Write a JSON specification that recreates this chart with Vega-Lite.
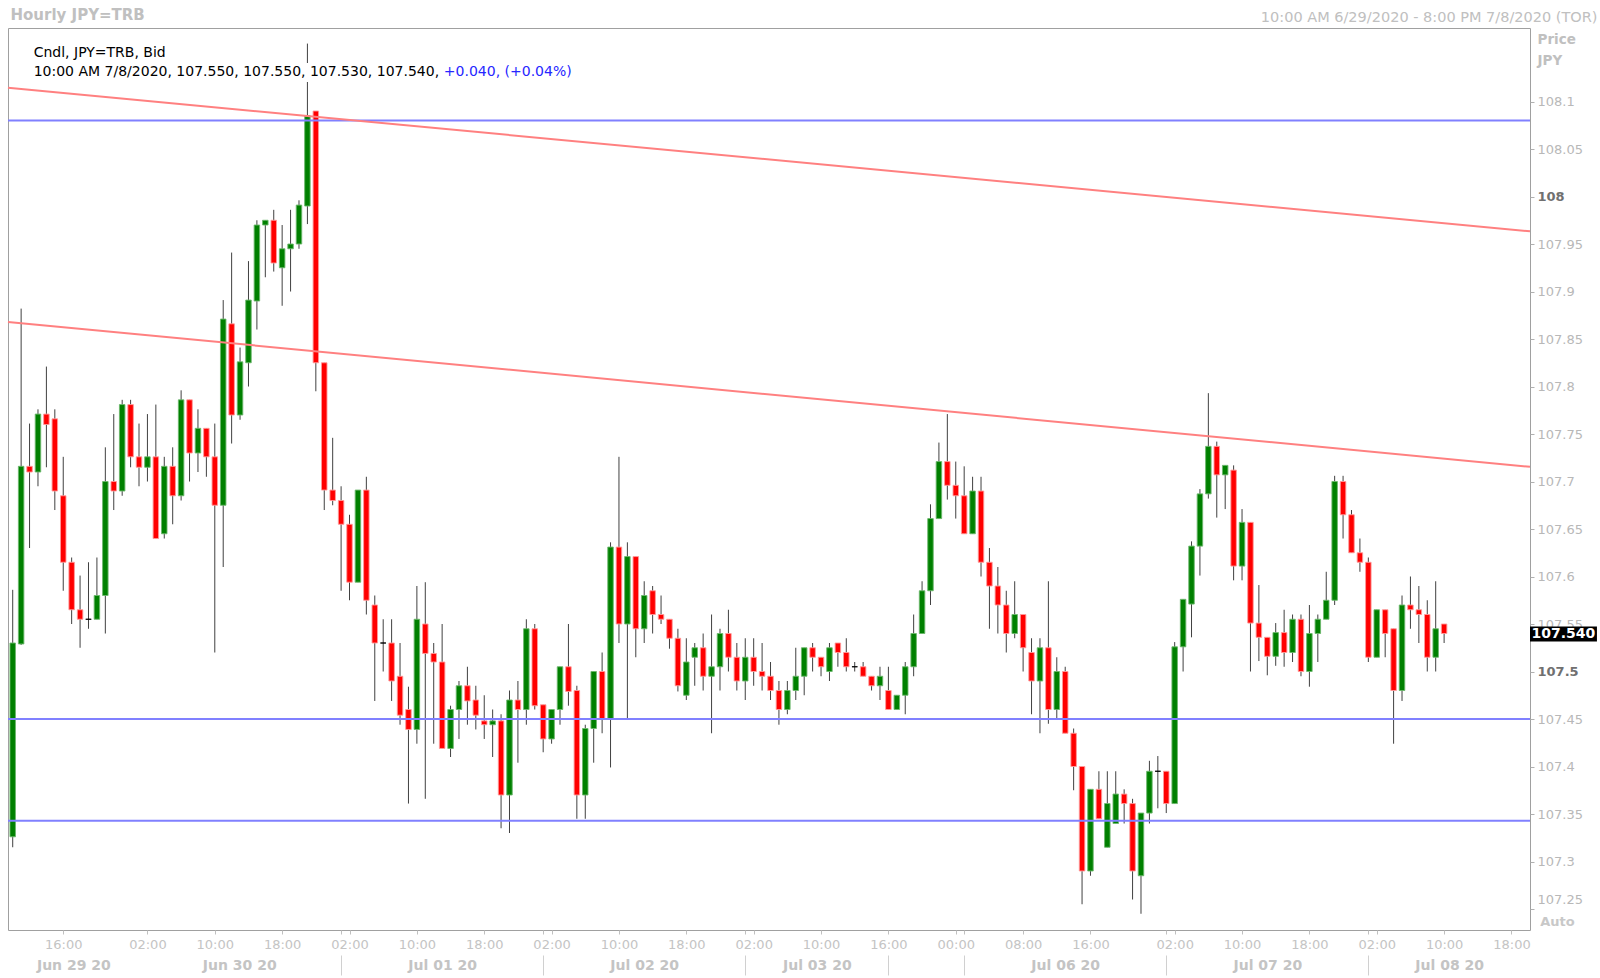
{
"$schema": "https://vega.github.io/schema/vega-lite/v6.json",
"width": 1522, "height": 902,
"autosize": {"type": "none"},
"padding": {"left": 8, "top": 28, "right": 70, "bottom": 48},
"background": "white",
"config": {"font": "DejaVu Sans", "view": {"stroke": "#a0a0a0", "strokeWidth": 1}},
"datasets": {
"candles": [
{"i":0,"o":107.326,"h":107.586,"l":107.315,"c":107.530},
{"i":1,"o":107.529,"h":107.882,"l":107.528,"c":107.716},
{"i":2,"o":107.716,"h":107.761,"l":107.630,"c":107.710},
{"i":3,"o":107.710,"h":107.776,"l":107.695,"c":107.771},
{"i":4,"o":107.771,"h":107.821,"l":107.715,"c":107.760},
{"i":5,"o":107.766,"h":107.776,"l":107.670,"c":107.690},
{"i":6,"o":107.685,"h":107.726,"l":107.585,"c":107.615},
{"i":7,"o":107.615,"h":107.620,"l":107.550,"c":107.565},
{"i":8,"o":107.565,"h":107.601,"l":107.525,"c":107.555},
{"i":9,"o":107.555,"h":107.615,"l":107.545,"c":107.555},
{"i":10,"o":107.555,"h":107.620,"l":107.555,"c":107.580},
{"i":11,"o":107.580,"h":107.736,"l":107.540,"c":107.700},
{"i":12,"o":107.700,"h":107.771,"l":107.670,"c":107.690},
{"i":13,"o":107.690,"h":107.786,"l":107.685,"c":107.781},
{"i":14,"o":107.781,"h":107.786,"l":107.715,"c":107.726},
{"i":15,"o":107.726,"h":107.761,"l":107.695,"c":107.715},
{"i":16,"o":107.715,"h":107.771,"l":107.700,"c":107.726},
{"i":17,"o":107.726,"h":107.781,"l":107.640,"c":107.640},
{"i":18,"o":107.645,"h":107.726,"l":107.640,"c":107.716},
{"i":19,"o":107.716,"h":107.736,"l":107.655,"c":107.685},
{"i":20,"o":107.685,"h":107.796,"l":107.680,"c":107.786},
{"i":21,"o":107.786,"h":107.786,"l":107.700,"c":107.730},
{"i":22,"o":107.730,"h":107.776,"l":107.710,"c":107.756},
{"i":23,"o":107.756,"h":107.756,"l":107.705,"c":107.726},
{"i":24,"o":107.726,"h":107.761,"l":107.520,"c":107.675},
{"i":25,"o":107.675,"h":107.891,"l":107.610,"c":107.871},
{"i":26,"o":107.866,"h":107.941,"l":107.740,"c":107.770},
{"i":27,"o":107.770,"h":107.841,"l":107.765,"c":107.826},
{"i":28,"o":107.825,"h":107.932,"l":107.800,"c":107.891},
{"i":29,"o":107.890,"h":107.975,"l":107.860,"c":107.970},
{"i":30,"o":107.970,"h":107.975,"l":107.915,"c":107.975},
{"i":31,"o":107.975,"h":107.986,"l":107.921,"c":107.930},
{"i":32,"o":107.925,"h":107.970,"l":107.885,"c":107.945},
{"i":33,"o":107.945,"h":107.986,"l":107.900,"c":107.950},
{"i":34,"o":107.950,"h":107.996,"l":107.945,"c":107.991},
{"i":35,"o":107.990,"h":108.161,"l":107.971,"c":108.085},
{"i":36,"o":108.090,"h":108.090,"l":107.795,"c":107.825},
{"i":37,"o":107.825,"h":107.825,"l":107.670,"c":107.691},
{"i":38,"o":107.691,"h":107.746,"l":107.675,"c":107.680},
{"i":39,"o":107.680,"h":107.695,"l":107.585,"c":107.655},
{"i":40,"o":107.655,"h":107.665,"l":107.575,"c":107.594},
{"i":41,"o":107.594,"h":107.691,"l":107.594,"c":107.691},
{"i":42,"o":107.691,"h":107.705,"l":107.560,"c":107.575},
{"i":43,"o":107.570,"h":107.580,"l":107.469,"c":107.530},
{"i":44,"o":107.530,"h":107.555,"l":107.500,"c":107.530},
{"i":45,"o":107.530,"h":107.555,"l":107.469,"c":107.490},
{"i":46,"o":107.495,"h":107.530,"l":107.444,"c":107.454},
{"i":47,"o":107.460,"h":107.484,"l":107.361,"c":107.439},
{"i":48,"o":107.439,"h":107.590,"l":107.424,"c":107.555},
{"i":49,"o":107.550,"h":107.594,"l":107.366,"c":107.519},
{"i":50,"o":107.519,"h":107.530,"l":107.424,"c":107.510},
{"i":51,"o":107.510,"h":107.550,"l":107.419,"c":107.419},
{"i":52,"o":107.419,"h":107.464,"l":107.410,"c":107.460},
{"i":53,"o":107.460,"h":107.490,"l":107.429,"c":107.485},
{"i":54,"o":107.485,"h":107.505,"l":107.444,"c":107.469},
{"i":55,"o":107.470,"h":107.485,"l":107.439,"c":107.454},
{"i":56,"o":107.448,"h":107.475,"l":107.429,"c":107.444},
{"i":57,"o":107.444,"h":107.460,"l":107.410,"c":107.448},
{"i":58,"o":107.448,"h":107.455,"l":107.335,"c":107.370},
{"i":59,"o":107.370,"h":107.480,"l":107.330,"c":107.470},
{"i":60,"o":107.470,"h":107.490,"l":107.404,"c":107.460},
{"i":61,"o":107.460,"h":107.555,"l":107.444,"c":107.545},
{"i":62,"o":107.545,"h":107.550,"l":107.460,"c":107.464},
{"i":63,"o":107.465,"h":107.465,"l":107.415,"c":107.429},
{"i":64,"o":107.429,"h":107.460,"l":107.424,"c":107.460},
{"i":65,"o":107.460,"h":107.505,"l":107.444,"c":107.505},
{"i":66,"o":107.505,"h":107.550,"l":107.464,"c":107.479},
{"i":67,"o":107.480,"h":107.485,"l":107.345,"c":107.370},
{"i":68,"o":107.370,"h":107.444,"l":107.345,"c":107.440},
{"i":69,"o":107.440,"h":107.500,"l":107.404,"c":107.500},
{"i":70,"o":107.500,"h":107.520,"l":107.435,"c":107.450},
{"i":71,"o":107.450,"h":107.636,"l":107.399,"c":107.631},
{"i":72,"o":107.631,"h":107.726,"l":107.530,"c":107.550},
{"i":73,"o":107.550,"h":107.636,"l":107.450,"c":107.621},
{"i":74,"o":107.621,"h":107.621,"l":107.515,"c":107.545},
{"i":75,"o":107.545,"h":107.595,"l":107.530,"c":107.580},
{"i":76,"o":107.585,"h":107.590,"l":107.540,"c":107.560},
{"i":77,"o":107.560,"h":107.580,"l":107.550,"c":107.555},
{"i":78,"o":107.555,"h":107.555,"l":107.524,"c":107.535},
{"i":79,"o":107.535,"h":107.545,"l":107.479,"c":107.485},
{"i":80,"o":107.475,"h":107.535,"l":107.470,"c":107.510},
{"i":81,"o":107.515,"h":107.530,"l":107.485,"c":107.525},
{"i":82,"o":107.525,"h":107.540,"l":107.480,"c":107.495},
{"i":83,"o":107.495,"h":107.560,"l":107.435,"c":107.505},
{"i":84,"o":107.505,"h":107.545,"l":107.480,"c":107.540},
{"i":85,"o":107.540,"h":107.565,"l":107.500,"c":107.515},
{"i":86,"o":107.515,"h":107.530,"l":107.480,"c":107.490},
{"i":87,"o":107.490,"h":107.535,"l":107.470,"c":107.515},
{"i":88,"o":107.515,"h":107.535,"l":107.485,"c":107.500},
{"i":89,"o":107.500,"h":107.530,"l":107.480,"c":107.495},
{"i":90,"o":107.495,"h":107.510,"l":107.470,"c":107.480},
{"i":91,"o":107.480,"h":107.490,"l":107.444,"c":107.460},
{"i":92,"o":107.460,"h":107.490,"l":107.455,"c":107.480},
{"i":93,"o":107.480,"h":107.525,"l":107.470,"c":107.495},
{"i":94,"o":107.495,"h":107.525,"l":107.475,"c":107.525},
{"i":95,"o":107.525,"h":107.530,"l":107.500,"c":107.515},
{"i":96,"o":107.515,"h":107.515,"l":107.495,"c":107.505},
{"i":97,"o":107.500,"h":107.530,"l":107.490,"c":107.525},
{"i":98,"o":107.530,"h":107.530,"l":107.505,"c":107.520},
{"i":99,"o":107.520,"h":107.535,"l":107.500,"c":107.505},
{"i":100,"o":107.505,"h":107.510,"l":107.500,"c":107.505},
{"i":101,"o":107.505,"h":107.510,"l":107.495,"c":107.495},
{"i":102,"o":107.495,"h":107.495,"l":107.480,"c":107.485},
{"i":103,"o":107.485,"h":107.505,"l":107.470,"c":107.495},
{"i":104,"o":107.480,"h":107.505,"l":107.460,"c":107.460},
{"i":105,"o":107.460,"h":107.475,"l":107.460,"c":107.475},
{"i":106,"o":107.475,"h":107.510,"l":107.455,"c":107.505},
{"i":107,"o":107.505,"h":107.560,"l":107.495,"c":107.540},
{"i":108,"o":107.540,"h":107.595,"l":107.540,"c":107.585},
{"i":109,"o":107.585,"h":107.676,"l":107.570,"c":107.661},
{"i":110,"o":107.661,"h":107.741,"l":107.661,"c":107.721},
{"i":111,"o":107.721,"h":107.771,"l":107.681,"c":107.696},
{"i":112,"o":107.696,"h":107.721,"l":107.661,"c":107.685},
{"i":113,"o":107.685,"h":107.716,"l":107.645,"c":107.645},
{"i":114,"o":107.645,"h":107.705,"l":107.645,"c":107.690},
{"i":115,"o":107.690,"h":107.705,"l":107.600,"c":107.615},
{"i":116,"o":107.615,"h":107.630,"l":107.545,"c":107.590},
{"i":117,"o":107.590,"h":107.610,"l":107.540,"c":107.570},
{"i":118,"o":107.570,"h":107.585,"l":107.520,"c":107.540},
{"i":119,"o":107.540,"h":107.595,"l":107.535,"c":107.560},
{"i":120,"o":107.560,"h":107.560,"l":107.500,"c":107.525},
{"i":121,"o":107.520,"h":107.535,"l":107.455,"c":107.490},
{"i":122,"o":107.490,"h":107.535,"l":107.435,"c":107.525},
{"i":123,"o":107.525,"h":107.595,"l":107.445,"c":107.460},
{"i":124,"o":107.460,"h":107.515,"l":107.450,"c":107.500},
{"i":125,"o":107.500,"h":107.505,"l":107.435,"c":107.435},
{"i":126,"o":107.435,"h":107.440,"l":107.375,"c":107.400},
{"i":127,"o":107.400,"h":107.400,"l":107.255,"c":107.290},
{"i":128,"o":107.290,"h":107.376,"l":107.285,"c":107.376},
{"i":129,"o":107.376,"h":107.395,"l":107.345,"c":107.345},
{"i":130,"o":107.315,"h":107.395,"l":107.315,"c":107.361},
{"i":131,"o":107.340,"h":107.395,"l":107.340,"c":107.371},
{"i":132,"o":107.371,"h":107.376,"l":107.340,"c":107.361},
{"i":133,"o":107.361,"h":107.366,"l":107.260,"c":107.290},
{"i":134,"o":107.285,"h":107.351,"l":107.245,"c":107.351},
{"i":135,"o":107.351,"h":107.406,"l":107.340,"c":107.395},
{"i":136,"o":107.395,"h":107.411,"l":107.356,"c":107.395},
{"i":137,"o":107.395,"h":107.395,"l":107.351,"c":107.361},
{"i":138,"o":107.361,"h":107.531,"l":107.361,"c":107.526},
{"i":139,"o":107.526,"h":107.576,"l":107.500,"c":107.576},
{"i":140,"o":107.571,"h":107.637,"l":107.536,"c":107.632},
{"i":141,"o":107.632,"h":107.692,"l":107.601,"c":107.687},
{"i":142,"o":107.687,"h":107.793,"l":107.682,"c":107.737},
{"i":143,"o":107.737,"h":107.742,"l":107.662,"c":107.707},
{"i":144,"o":107.707,"h":107.717,"l":107.671,"c":107.717},
{"i":145,"o":107.712,"h":107.717,"l":107.596,"c":107.611},
{"i":146,"o":107.611,"h":107.671,"l":107.596,"c":107.657},
{"i":147,"o":107.657,"h":107.657,"l":107.500,"c":107.551},
{"i":148,"o":107.551,"h":107.591,"l":107.511,"c":107.536},
{"i":149,"o":107.536,"h":107.536,"l":107.496,"c":107.516},
{"i":150,"o":107.516,"h":107.551,"l":107.506,"c":107.541},
{"i":151,"o":107.541,"h":107.565,"l":107.505,"c":107.520},
{"i":152,"o":107.520,"h":107.560,"l":107.510,"c":107.555},
{"i":153,"o":107.555,"h":107.560,"l":107.495,"c":107.500},
{"i":154,"o":107.500,"h":107.570,"l":107.484,"c":107.540},
{"i":155,"o":107.540,"h":107.560,"l":107.510,"c":107.555},
{"i":156,"o":107.555,"h":107.605,"l":107.555,"c":107.575},
{"i":157,"o":107.575,"h":107.706,"l":107.570,"c":107.700},
{"i":158,"o":107.700,"h":107.706,"l":107.640,"c":107.665},
{"i":159,"o":107.665,"h":107.670,"l":107.625,"c":107.625},
{"i":160,"o":107.625,"h":107.640,"l":107.605,"c":107.615},
{"i":161,"o":107.615,"h":107.620,"l":107.510,"c":107.515},
{"i":162,"o":107.515,"h":107.565,"l":107.515,"c":107.565},
{"i":163,"o":107.565,"h":107.565,"l":107.515,"c":107.540},
{"i":164,"o":107.545,"h":107.545,"l":107.424,"c":107.480},
{"i":165,"o":107.480,"h":107.580,"l":107.469,"c":107.570},
{"i":166,"o":107.570,"h":107.600,"l":107.545,"c":107.565},
{"i":167,"o":107.565,"h":107.590,"l":107.530,"c":107.560},
{"i":168,"o":107.560,"h":107.575,"l":107.500,"c":107.515},
{"i":169,"o":107.515,"h":107.595,"l":107.500,"c":107.545},
{"i":170,"o":107.550,"h":107.550,"l":107.530,"c":107.540}
],
"levels": [{"level": 108.08}, {"level": 107.45}, {"level": 107.343}],
"trend": [
{"line": "upper", "i": -0.56, "p": 108.1145},
{"line": "upper", "i": 180.2, "p": 107.9634},
{"line": "lower", "i": -0.56, "p": 107.8679},
{"line": "lower", "i": 180.2, "p": 107.7155}
],
"last": [{"price": 107.54, "label": "107.540"}]
},
"resolve": {"axis": {"x": "independent", "y": "independent"}},
"layer": [
{
"data": {"name": "candles"},
"mark": {"type": "rule", "color": "#404040", "strokeWidth": 1},
"encoding": {
"x": {"field": "i", "type": "quantitative", "scale": {"domain": [-0.56, 180.2], "nice": false, "zero": false, "padding": 0},
"axis": {"orient": "bottom", "title": null, "domain": false, "grid": false, "tickSize": 4, "tickColor": "#c0c0c0",
"values": [6,16,24,32,39,40,48,56,63,64,72,80,87,88,96,104,112,113,120,128,137,138,146,154,161,162,170,178],
"labelExpr": "indexof([6,16,24,32,40,48,56,64,72,80,88,96,104,112,120,128,138,146,154,162,170,178], datum.value) >= 0 ? ['16:00','02:00','10:00','18:00','02:00','10:00','18:00','02:00','10:00','18:00','02:00','10:00','16:00','00:00','08:00','16:00','02:00','10:00','18:00','02:00','10:00','18:00'][indexof([6,16,24,32,40,48,56,64,72,80,88,96,104,112,120,128,138,146,154,162,170,178], datum.value)] : ''",
"labelColor": "#c4c4c4", "labelFont": "DejaVu Sans", "labelFontSize": 13, "labelPadding": 4, "labelOverlap": false, "labelFlush": false, "labelBound": false}},
"y": {"field": "l", "type": "quantitative", "scale": {"domain": [107.2279, 108.1774], "nice": false, "zero": false, "padding": 0},
"axis": {"orient": "right", "domain": false, "grid": false, "ticks": true, "tickSize": 4, "tickColor": "#b0b0b0",
"values": [107.25,107.3,107.35,107.4,107.45,107.5,107.55,107.6,107.65,107.7,107.75,107.8,107.85,107.9,107.95,108,108.05,108.1],
"format": ".2~f", "labels": true, "labelFont": "DejaVu Sans", "labelFontSize": 13, "labelPadding": 3, "labelOverlap": false, "labelFlush": false, "labelBound": false,
"labelOffset": {"condition": {"test": "datum.value == 107.25", "value": -10}, "value": 0},
"labelColor": {"condition": {"test": "datum.value == 108 || datum.value == 107.5", "value": "#707070"}, "value": "#b8b8b8"},
"labelFontWeight": {"condition": {"test": "datum.value == 108 || datum.value == 107.5", "value": "bold"}, "value": "normal"},
"title": ["Price", "JPY"], "titleAngle": 0, "titleAlign": "left", "titleBaseline": "alphabetic", "titleX": 7, "titleY": 15,
"titleFont": "DejaVu Sans", "titleFontSize": 13.5, "titleFontWeight": "bold", "titleColor": "#c0c0c0", "titleLineHeight": 21}},
"y2": {"field": "h"}
}
},
{
"data": {"name": "candles"},
"mark": {"type": "bar", "size": 5.5, "strokeWidth": 0.9},
"encoding": {
"x": {"field": "i", "type": "quantitative", "scale": {"domain": [-0.56, 180.2], "nice": false, "zero": false, "padding": 0},
"axis": {"orient": "bottom", "offset": 25, "title": null, "domain": false, "grid": false, "tickSize": 20, "tickColor": "#d0d0d0",
"tickOpacity": {"condition": {"test": "indexof([39,63,87,104,113,137,161], datum.value) >= 0", "value": 1}, "value": 0},
"values": [7.2,26.9,39,51,63,75,87,95.5,104,113,125,137,149,161,170.6],
"labelExpr": "indexof([7.2,26.9,51,75,95.5,125,149,170.6], datum.value) >= 0 ? ['Jun 29 20','Jun 30 20','Jul 01 20','Jul 02 20','Jul 03 20','Jul 06 20','Jul 07 20','Jul 08 20'][indexof([7.2,26.9,51,75,95.5,125,149,170.6], datum.value)] : ''",
"labelBaseline": "middle", "labelPadding": -10, "labelColor": "#c4c4c4", "labelFont": "DejaVu Sans", "labelFontSize": 14, "labelFontWeight": "bold",
"labelOverlap": false, "labelFlush": false, "labelBound": false}},
"y": {"field": "o", "type": "quantitative", "scale": {"domain": [107.2279, 108.1774], "nice": false, "zero": false, "padding": 0}, "axis": null},
"y2": {"field": "c"},
"fill": {"condition": [{"test": "datum.c > datum.o", "value": "#008000"}, {"test": "datum.c < datum.o", "value": "#ff0000"}], "value": "#000000"},
"stroke": {"condition": [{"test": "datum.c > datum.o", "value": "#6cb86c"}, {"test": "datum.c < datum.o", "value": "#ff9a9a"}], "value": "#000000"}
}
},
{
"data": {"name": "levels"},
"mark": {"type": "rule", "color": "#8080ff", "strokeWidth": 2},
"encoding": {
"y": {"field": "level", "type": "quantitative", "scale": {"domain": [107.2279, 108.1774], "nice": false, "zero": false, "padding": 0}, "axis": null}
}
},
{
"data": {"name": "trend"},
"mark": {"type": "line", "color": "#ff8080", "strokeWidth": 2},
"encoding": {
"x": {"field": "i", "type": "quantitative", "scale": {"domain": [-0.56, 180.2], "nice": false, "zero": false, "padding": 0},
"axis": {"orient": "top", "title": "10:00 AM 6/29/2020 - 8:00 PM 7/8/2020 (TOR)", "labels": false, "ticks": false, "domain": false, "grid": false,
"titleX": 1589, "titleY": -7, "titleAlign": "right", "titleBaseline": "alphabetic", "titleFont": "DejaVu Sans", "titleFontSize": 14.5, "titleFontWeight": "normal", "titleColor": "#c0c0c0"}},
"y": {"field": "p", "type": "quantitative", "scale": {"domain": [107.2279, 108.1774], "nice": false, "zero": false, "padding": 0}, "axis": null},
"detail": {"field": "line"}
}
},
{
"data": {"name": "last"},
"mark": {"type": "rect", "color": "#000000"},
"encoding": {
"x": {"datum": 180.2, "type": "quantitative", "scale": {"domain": [-0.56, 180.2], "nice": false, "zero": false, "padding": 0},
"axis": {"orient": "top", "title": "Hourly JPY=TRB", "labels": false, "ticks": false, "domain": false, "grid": false,
"titleX": 2, "titleY": -9, "titleAlign": "left", "titleBaseline": "alphabetic", "titleFont": "DejaVu Sans", "titleFontSize": 15, "titleFontWeight": "bold", "titleColor": "#c0c0c0"}},
"x2": {"datum": 188.15},
"y": {"datum": 107.5475, "type": "quantitative", "scale": {"domain": [107.2279, 108.1774], "nice": false, "zero": false, "padding": 0}, "axis": null},
"y2": {"datum": 107.5315}
}
},
{
"data": {"name": "last"},
"mark": {"type": "text", "color": "#ffffff", "font": "DejaVu Sans", "fontSize": 14, "fontWeight": "bold", "align": "center", "baseline": "middle"},
"encoding": {
"x": {"datum": 184.17, "type": "quantitative", "scale": {"domain": [-0.56, 180.2], "nice": false, "zero": false, "padding": 0}, "axis": null},
"y": {"field": "price", "type": "quantitative", "scale": {"domain": [107.2279, 108.1774], "nice": false, "zero": false, "padding": 0}, "axis": null},
"text": {"field": "label"}
}
},
{
"data": {"values": [{"box": "legend"}]},
"mark": {"type": "rect", "color": "#ffffff"},
"encoding": {
"x": {"datum": 2.4, "type": "quantitative", "scale": {"domain": [-0.56, 180.2], "nice": false, "zero": false, "padding": 0}, "axis": null},
"x2": {"datum": 66.8},
"y": {"datum": 108.1405, "type": "quantitative", "scale": {"domain": [107.2279, 108.1774], "nice": false, "zero": false, "padding": 0}, "axis": null},
"y2": {"datum": 108.1205}
}
},
{
"data": {"values": [{"txt": "Cndl, JPY=TRB, Bid"}]},
"mark": {"type": "text", "font": "DejaVu Sans", "fontSize": 14, "align": "left", "baseline": "middle", "color": "#000000"},
"encoding": {
"x": {"datum": 2.49, "type": "quantitative", "scale": {"domain": [-0.56, 180.2], "nice": false, "zero": false, "padding": 0},
"axis": {"orient": "bottom", "title": "Auto", "labels": false, "ticks": false, "domain": false, "grid": false,
"titleX": 1549, "titleY": -9, "titleAlign": "center", "titleBaseline": "middle", "titleFont": "DejaVu Sans", "titleFontSize": 13, "titleFontWeight": "bold", "titleColor": "#c8c8c8"}},
"y": {"datum": 108.1514, "type": "quantitative", "scale": {"domain": [107.2279, 108.1774], "nice": false, "zero": false, "padding": 0}, "axis": null},
"text": {"field": "txt"}
}
},
{
"data": {"values": [{"txt": "10:00 AM 7/8/2020, 107.550, 107.550, 107.530, 107.540,"}]},
"mark": {"type": "text", "font": "DejaVu Sans", "fontSize": 14, "align": "left", "baseline": "middle", "color": "#000000"},
"encoding": {
"x": {"datum": 2.49, "type": "quantitative", "scale": {"domain": [-0.56, 180.2], "nice": false, "zero": false, "padding": 0}, "axis": null},
"y": {"datum": 108.1314, "type": "quantitative", "scale": {"domain": [107.2279, 108.1774], "nice": false, "zero": false, "padding": 0}, "axis": null},
"text": {"field": "txt"}
}
},
{
"data": {"values": [{"txt": "+0.040, (+0.04%)"}]},
"mark": {"type": "text", "font": "DejaVu Sans", "fontSize": 14, "align": "left", "baseline": "middle", "color": "#2626ff"},
"encoding": {
"x": {"datum": 51.2, "type": "quantitative", "scale": {"domain": [-0.56, 180.2], "nice": false, "zero": false, "padding": 0}, "axis": null},
"y": {"datum": 108.1314, "type": "quantitative", "scale": {"domain": [107.2279, 108.1774], "nice": false, "zero": false, "padding": 0}, "axis": null},
"text": {"field": "txt"}
}
}
]
}
